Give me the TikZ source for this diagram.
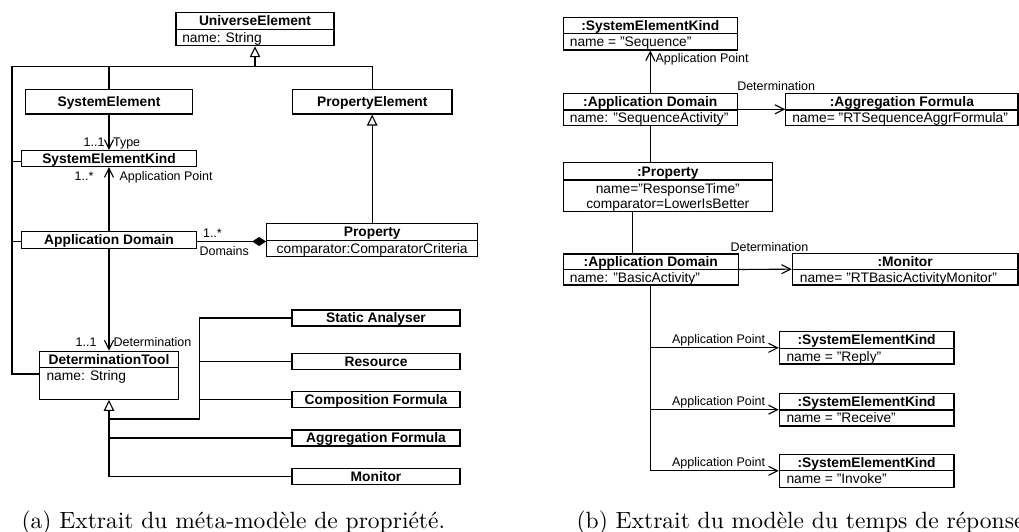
\documentclass[tikz,border=0pt]{standalone}
\usepackage{fontspec}
\setsansfont{Liberation Sans}
\usepackage{graphicx}
\usetikzlibrary{arrows.meta}

\begin{document}
\begin{tikzpicture}[x=1pt, y=-1pt, line width=1.1pt,
  box/.style={draw, inner sep=0pt},
  ttl/.style={font=\sffamily\bfseries\fontsize{13.8}{16}\selectfont, inner sep=0pt, text height=9.8pt, text depth=0pt},
  att/.style={font=\sffamily\fontsize{13.8}{16}\selectfont, inner sep=0pt, text height=9.8pt, text depth=0pt},
  lbl/.style={font=\sffamily\fontsize{12.5}{15}\selectfont, inner sep=0pt, text height=9pt, text depth=0pt},
  assoc/.style={-{Straight Barb[length=9pt,width=9pt]}},
  gen/.style={-{Triangle[length=11pt,width=10.5pt,fill=white]}},
  comp/.style={-{Diamond[length=14pt,width=9pt]}},
  captext/.style={inner sep=0pt, anchor=base west}]
\useasboundingbox (0,0) rectangle (1019,532);

% ---------------- (a) meta-model ----------------
\node[box, minimum width=158pt, minimum height=33pt] (ue) at (255,29.2) {};
\draw (ue.west |- 0,29.3) -- (ue.east |- 0,29.3);
\node[ttl] (uet) at (255,21) {UniverseElement};
\node[att, anchor=west] (uea) at (181.7,37.5) {name: String};

\node[box, minimum width=167pt, minimum height=24.7pt] (se) at (109,101.7) {};
\node[ttl] (set) at (109,101.7) {SystemElement};

\node[box, minimum width=159.3pt, minimum height=24.7pt] (pe) at (372.3,101.7) {};
\node[ttl] (pet) at (372.3,101.7) {PropertyElement};

\node[box, minimum width=175.7pt, minimum height=16pt] (sek) at (109,158.5) {};
\node[ttl] (sekt) at (109,158.5) {SystemElementKind};

\node[box, minimum width=175.7pt, minimum height=17pt] (ad) at (109,240) {};
\node[ttl] (adt) at (109,240) {Application Domain};

\node[box, minimum width=211pt, minimum height=33.6pt] (p) at (372.2,240) {};
\draw (p.west |- 0,240.2) -- (p.east |- 0,240.2);
\node[ttl] (pt) at (372.2,231.5) {Property};
\node[att] (pa) at (372.2,248.6) {comparator:ComparatorCriteria};

\node[box, minimum width=139pt, minimum height=48.3pt] (dt) at (109,375.2) {};
\draw (dt.west |- 0,367.3) -- (dt.east |- 0,367.3);
\node[ttl] (dtt) at (109,359.2) {DeterminationTool};
\node[att, anchor=west] (dta) at (46,376) {name: String};

\node[box, minimum width=168pt, minimum height=16pt] (sa) at (376,318) {};
\node[ttl] (sat) at (376,318) {Static Analyser};
\node[box, minimum width=168pt, minimum height=16pt] (rs) at (376,361.3) {};
\node[ttl] (rst) at (376,361.3) {Resource};
\node[box, minimum width=168pt, minimum height=16pt] (cf) at (376,399.5) {};
\node[ttl] (cft) at (376,399.5) {Composition Formula};
\node[box, minimum width=168pt, minimum height=16pt] (agf) at (376,438) {};
\node[ttl] (agft) at (376,438) {Aggregation Formula};
\node[box, minimum width=168pt, minimum height=16.5pt] (mo) at (376,476.5) {};
\node[ttl] (mot) at (376,476.5) {Monitor};

% generalisation towards UniverseElement
\coordinate (hub) at (255,66.7);
\coordinate (lt) at (12,66.7);
\coordinate (lb) at (12,374);
\draw[gen] (hub) -- (ue.south);
\draw (se.north) |- (hub);
\draw (pe.north) |- (hub);
\draw (se.north |- hub) -- (lt) -- (lb) -- (dt.west |- lb);
\draw (lt |- 0,161.7) -- (sek.west |- 0,161.7);
\draw (lt |- 0,241.7) -- (ad.west |- 0,241.7);
\draw[gen] (p.north) -- (p.north |- pe.south);

% associations
\draw[assoc] (se.south) -- (se.south |- sek.north);
\node[lbl, anchor=east] (m1) at (105,141.7) {1..1};
\node[lbl, anchor=west] (r1) at (112.5,141.7) {Type};
\draw[assoc] (ad.north) -- (ad.north |- sek.south);
\node[lbl, anchor=east] (m2) at (94,175.7) {1..*};
\node[lbl, anchor=west] (r2) at (119,175.7) {Application Point};
\draw[comp] (ad.east |- 0,241.5) -- (p.west |- 0,241.5);
\node[lbl, anchor=west] (m3) at (202.5,233.3) {1..*};
\node[lbl, anchor=west] (r3) at (199,250.7) {Domains};
\draw[assoc] (ad.south) -- (ad.south |- dt.north);
\node[lbl, anchor=east] (m4) at (97,341.7) {1..1};
\node[lbl, anchor=west] (r4) at (113,341.7) {Determination};

% specialisations of DeterminationTool
\coordinate (bus) at (199.3,419);
\draw[gen] (mo.west) -| (dt.south);
\draw (dt.south |- agf.west) -- (agf.west);
\draw (dt.south |- bus) -- (bus) |- (sa.west);
\draw (bus |- rs.west) -- (rs.west);
\draw (bus |- cf.west) -- (cf.west);

% ---------------- (b) response time model ----------------
\node[box, minimum width=174pt, minimum height=32.7pt] (sk1) at (650.3,33.65) {};
\draw (sk1.west |- 0,33.3) -- (sk1.east |- 0,33.3);
\node[ttl] (sk1t) at (650.3,25.3) {:SystemElementKind};
\node[att, anchor=west] (sk1a) at (569.3,41.7) {name = "Sequence"};

\node[box, minimum width=174pt, minimum height=32pt] (ad1) at (650.3,109.3) {};
\draw (ad1.west |- 0,110) -- (ad1.east |- 0,110);
\node[ttl] (ad1t) at (650.3,101.7) {:Application Domain};
\node[att, anchor=west] (ad1a) at (569.3,117.7) {name: "SequenceActivity"};

\node[box, minimum width=232.3pt, minimum height=32pt] (af) at (901.85,109.3) {};
\draw (af.west |- 0,110) -- (af.east |- 0,110);
\node[ttl] (aft) at (901.85,101.7) {:Aggregation Formula};
\node[att, anchor=west] (afa) at (791.7,117.7) {name= "RTSequenceAggrFormula"};

\node[box, minimum width=209pt, minimum height=49pt] (p2) at (667.8,187.2) {};
\draw (p2.west |- 0,180) -- (p2.east |- 0,180);
\node[ttl] (p2t) at (667.8,171.3) {:Property};
\node[att] (p2a) at (667.8,188.3) {name="ResponseTime"};
\node[att] (p2b) at (667.8,203.3) {comparator=LowerIsBetter};

\node[box, minimum width=175pt, minimum height=31pt] (ad2) at (650.8,269.5) {};
\draw (ad2.west |- 0,269.3) -- (ad2.east |- 0,269.3);
\node[ttl] (ad2t) at (650.8,261.7) {:Application Domain};
\node[att, anchor=west] (ad2a) at (569.3,277.2) {name: "BasicActivity"};

\node[box, minimum width=225.7pt, minimum height=31.7pt] (mon) at (905.15,269.15) {};
\draw (mon.west |- 0,269.3) -- (mon.east |- 0,269.3);
\node[ttl] (mont) at (905.15,261.3) {:Monitor};
\node[att, anchor=west] (mona) at (799.3,277.2) {name= "RTBasicActivityMonitor"};

\node[box, minimum width=174.7pt, minimum height=32.3pt] (sk2) at (866.65,347.85) {};
\draw (sk2.west |- 0,348.3) -- (sk2.east |- 0,348.3);
\node[ttl] (sk2t) at (866.65,340) {:SystemElementKind};
\node[att, anchor=west] (sk2a) at (786,356.2) {name = "Reply"};

\node[box, minimum width=174.7pt, minimum height=32.7pt] (sk3) at (866.65,409.65) {};
\draw (sk3.west |- 0,410) -- (sk3.east |- 0,410);
\node[ttl] (sk3t) at (866.65,401.7) {:SystemElementKind};
\node[att, anchor=west] (sk3a) at (786,418) {name = "Receive"};

\node[box, minimum width=174.7pt, minimum height=33pt] (sk4) at (866.65,470.8) {};
\draw (sk4.west |- 0,470.7) -- (sk4.east |- 0,470.7);
\node[ttl] (sk4t) at (866.65,462.5) {:SystemElementKind};
\node[att, anchor=west] (sk4a) at (786,479) {name = "Invoke"};

% links of the instance model
\draw[assoc] (ad1.north) -- (ad1.north |- sk1.south);
\node[lbl, anchor=west] (l1) at (655,58.5) {Application Point};
\draw[assoc] (ad1.east) -- (af.west);
\node[lbl, anchor=west] (l2) at (736.7,86) {Determination};
\draw (ad1.south) -- (ad1.south |- p2.north);
\draw ([xshift=-35.1pt]p2.south) -- ([xshift=-35.1pt]p2.south |- ad2.north);
\draw[assoc] (ad2.east) -- (mon.west);
\node[lbl, anchor=west] (l3) at (730,246.7) {Determination};
\draw[assoc] (ad2.south) |- (sk4.west);
\draw[assoc] (ad2.south |- sk2.west) -- (sk2.west);
\draw[assoc] (ad2.south |- sk3.west) -- (sk3.west);
\node[lbl, anchor=east] (l4) at (765.7,339.3) {Application Point};
\node[lbl, anchor=east] (l5) at (765.7,400.7) {Application Point};
\node[lbl, anchor=east] (l6) at (765.7,461.7) {Application Point};

% ---------------- captions ----------------
\node[captext] (capa) at (21,528) {\scalebox{2.35}{(a) Extrait du méta-modèle de propriété.}};
\node[captext] (capb) at (576,528) {\scalebox{2.35}{(b) Extrait du modèle du temps de réponse.}};
\end{tikzpicture}
\end{document}
